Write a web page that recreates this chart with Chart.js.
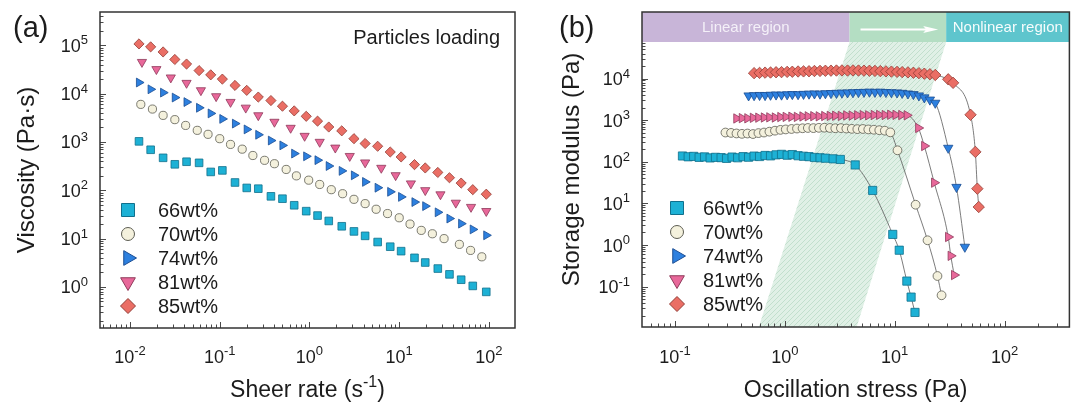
<!DOCTYPE html>
<html>
<head>
<meta charset="utf-8">
<script src="https://cdn.jsdelivr.net/npm/chart.js@4.4.1/dist/chart.umd.min.js"></script>
<style>
  html, body { margin: 0; padding: 0; background: #fff; }
  #wrap { position: relative; width: 1076px; height: 406px; overflow: hidden; }
  canvas { position: absolute; top: 0; }
  #chartA { left: 0; }
  #chartB { left: 540px; }
</style>
</head>
<body>
<div id="wrap">
  <canvas id="chartA" width="540" height="406"></canvas>
  <canvas id="chartB" width="536" height="406"></canvas>
</div>
<script>
// ---- data: panel (a) viscosity vs shear rate ----
const seriesLabels = ['66wt%', '70wt%', '74wt%', '81wt%', '85wt%'];

const shearRate = [0.0126, 0.017, 0.0234, 0.0316, 0.0427, 0.0589, 0.0794, 0.107, 0.148, 0.2,
  0.269, 0.372, 0.5, 0.676, 0.92, 1.23, 1.64, 2.29, 3.13, 4.17,
  5.75, 7.94, 10.5, 14.8, 19.5, 26.9, 36.3, 49, 66, 93.3];
const shearRate70 = [0.0132, 0.0178, 0.0234, 0.0316, 0.0417, 0.0562, 0.0741, 0.1, 0.132, 0.178,
  0.234, 0.316, 0.407, 0.55, 0.715, 0.98, 1.3, 1.75, 2.34, 3.13,
  4.17, 5.53, 7.41, 10, 13.2, 17.6, 23.4, 31.6, 46.8, 62.4, 83.2];
const shearRate81 = [0.0136, 0.0197, 0.0285, 0.0427, 0.0617, 0.0912, 0.132, 0.195, 0.269, 0.407,
  0.617, 0.883, 1.3, 1.94, 2.81, 4.17, 6.31, 9.12, 13.5, 19.5, 28.8, 42.7, 63.1, 93.3];

const visc66 = [1030, 690, 470, 345, 390, 370, 240, 258, 145, 112, 108, 75, 67, 49, 37,
  30, 23.2, 18, 14.1, 11.4, 8.5, 6.8, 5.5, 4.0, 3.2, 2.4, 1.82, 1.41, 1.05, 0.79];
const visc70 = [6000, 4800, 3550, 2900, 2200, 1740, 1440, 1170, 890, 710, 525, 417, 355, 270, 199,
  162, 132, 103, 85, 65, 53, 40.5, 33, 27, 20, 14.8, 12.6, 10, 7.6, 5.7, 4.2];
const visc74 = [17000, 12300, 10500, 8300, 6700, 5100, 3900, 3000, 2400, 1820, 1410, 1070, 850, 575, 505,
  420, 318, 252, 204, 149, 113, 93, 73, 57, 47, 35, 26, 20.4, 15.5, 11.7];
const visc81 = [45000, 32000, 21500, 16600, 11700, 8800, 6700, 5100, 3550, 2600, 1950, 1330,
  1000, 760, 510, 375, 290, 204, 138, 100, 82, 55, 45, 37];
const visc85 = [107000, 93000, 73000, 51000, 41000, 30000, 24500, 20000, 14800, 11700, 8500, 7200, 5500, 4400, 3400,
  2700, 2040, 1700, 1170, 930, 815, 620, 490, 340, 290, 234, 182, 141, 103, 83];

// ---- data: panel (b) storage modulus vs oscillation stress ----
const stress66 = [0.117, 0.132, 0.148, 0.166, 0.186, 0.209, 0.234, 0.263, 0.295, 0.331,
  0.372, 0.417, 0.468, 0.525, 0.589, 0.661, 0.741, 0.832, 0.933, 1.05,
  1.17, 1.32, 1.48, 1.66, 1.86, 2.09, 2.34, 2.75, 3.2, 4.37, 6.3, 9.6, 11.0, 12.9, 14.1, 15.3];
const modulus66 = [138, 132, 135, 128, 131, 124, 128, 126, 121, 130,
  125, 133, 129, 137, 134, 142, 139, 147, 151, 144,
  149, 140, 136, 133, 127, 125, 122, 118, 114, 84, 20.5, 1.8, 0.75, 0.136, 0.056, 0.024];

const stress70 = [0.288, 0.324, 0.363, 0.407, 0.457, 0.513, 0.575, 0.646, 0.724, 0.813,
  0.912, 1.02, 1.15, 1.29, 1.45, 1.62, 1.82, 2.04, 2.29, 2.57,
  2.88, 3.24, 3.63, 4.07, 4.57, 5.13, 5.75, 6.46, 7.24, 8.13, 9.12, 10.6, 15.5, 19.9, 24.5, 26.7];
const modulus70 = [505, 495, 480, 470, 478, 465, 490, 505, 530, 560,
  585, 600, 615, 630, 640, 650, 645, 655, 660, 650,
  640, 645, 630, 620, 610, 615, 600, 590, 575, 560, 510, 189, 9.3, 1.3, 0.18, 0.062];

const stress74 = [0.468, 0.525, 0.589, 0.661, 0.741, 0.832, 0.933, 1.05, 1.17, 1.32,
  1.48, 1.66, 1.86, 2.09, 2.34, 2.63, 2.95, 3.31, 3.72, 4.17,
  4.68, 5.25, 5.89, 6.61, 7.41, 8.32, 9.33, 10.5, 11.7, 13.2,
  14.8, 16.6, 18.6, 20.9, 23.4, 30.7, 36.5, 43.5];
const modulus74 = [3900, 3950, 4000, 3980, 4050, 4100, 4080, 4150, 4200, 4180,
  4250, 4300, 4350, 4300, 4400, 4450, 4500, 4550, 4600, 4650,
  4700, 4750, 4800, 4750, 4800, 4700, 4650, 4600, 4500, 4350,
  4200, 3900, 3500, 3100, 2600, 215, 24.7, 0.9];

const stress81 = [0.363, 0.407, 0.457, 0.513, 0.575, 0.646, 0.724, 0.813, 0.912, 1.02,
  1.15, 1.29, 1.45, 1.62, 1.82, 2.04, 2.29, 2.57, 2.88, 3.24,
  3.63, 4.07, 4.57, 5.13, 5.75, 6.46, 7.24, 8.13, 9.12, 10.2,
  11.5, 12.9, 16.4, 18.6, 22.9, 30.7, 32.4, 34.8];
const modulus81 = [1100, 1120, 1110, 1140, 1150, 1160, 1170, 1160, 1190, 1200,
  1210, 1200, 1230, 1240, 1250, 1240, 1260, 1270, 1280, 1270,
  1300, 1290, 1310, 1320, 1310, 1330, 1340, 1330, 1350, 1340,
  1330, 1310, 650, 240, 31.5, 1.56, 0.55, 0.19];

const stress85 = [0.525, 0.589, 0.661, 0.741, 0.832, 0.933, 1.05, 1.17, 1.32, 1.48,
  1.66, 1.86, 2.09, 2.34, 2.63, 2.95, 3.31, 3.72, 4.17, 4.68,
  5.25, 5.89, 6.61, 7.41, 8.32, 9.33, 10.5, 11.7, 13.2, 14.8,
  16.6, 18.6, 20.9, 23.4, 30.7, 34, 49, 54.2, 56.5, 58.2];
const modulus85 = [13500, 13700, 13900, 14000, 14200, 14300, 14500, 14600, 14800, 14900,
  15000, 15200, 15300, 15400, 15500, 15600, 15700, 15600, 15700, 15600,
  15500, 15400, 15300, 15100, 14900, 14700, 14500, 14300, 14100, 13800,
  13500, 13100, 12700, 12200, 9600, 7900, 1350, 173, 22.6, 8.2];

// tick label exponents
const xExpA = [-2, -1, 0, 1, 2];
const yExpA = [0, 1, 2, 3, 4, 5];
const xExpB = [-1, 0, 1, 2];
const yExpB = [-1, 0, 1, 2, 3, 4];

// region limits, in stress units
const linearEnd = 3.88;
const nonlinearStart = 29.4;
const hatchBottom = [0.58, 4.5];

// ---- styles ----
const FONT = '"Liberation Sans", Arial, Helvetica, sans-serif';
const INK = '#1c1c1c';
const fills = ['#1db1d5', '#f4f1dd', '#2d80df', '#e8689a', '#ea6e65'];
const edges = ['#11708c', '#5c5c52', '#1a4c92', '#8e3a5a', '#923d36'];
const legendStyles = ['rect', 'circle', 'right', 'down', 'diamond'];

const pts = (xs, ys) => xs.map((x, i) => ({ x: x, y: ys[i] }));

function richDraw(ctx, parts, x, y, size, align) {
  const supSize = Math.round(size * 0.7);
  const widths = parts.map(p => {
    ctx.font = (p[1] ? supSize : size) + 'px ' + FONT;
    return ctx.measureText(p[0]).width;
  });
  const total = widths.reduce((a, b) => a + b, 0);
  let cx = align === 'center' ? x - total / 2 : align === 'right' ? x - total : x;
  ctx.textAlign = 'left';
  ctx.textBaseline = 'alphabetic';
  parts.forEach((p, i) => {
    ctx.font = (p[1] ? supSize : size) + 'px ' + FONT;
    ctx.fillText(p[0], cx, p[1] ? y - size * 0.42 : y);
    cx += widths[i];
  });
}

function logTicks(min, max) {
  const out = [];
  for (let e = Math.floor(Math.log10(min)); e <= Math.ceil(Math.log10(max)); e++) {
    for (let s = 1; s <= 9; s++) {
      const v = s * Math.pow(10, e);
      if (v >= min && v <= max) out.push({ v: v, major: s === 1 });
    }
  }
  return out;
}

function marker(ctx, style, x, y, r) {
  ctx.beginPath();
  if (style === 'rect') {
    ctx.rect(x - r, y - r, 2 * r, 2 * r);
  } else if (style === 'circle') {
    ctx.arc(x, y, r, 0, Math.PI * 2);
  } else if (style === 'right') {
    ctx.moveTo(x + r, y); ctx.lineTo(x - r / 2, y - r * 0.866); ctx.lineTo(x - r / 2, y + r * 0.866);
    ctx.closePath();
  } else if (style === 'down') {
    ctx.moveTo(x, y + r); ctx.lineTo(x - r * 0.866, y - r / 2); ctx.lineTo(x + r * 0.866, y - r / 2);
    ctx.closePath();
  } else {
    ctx.moveTo(x - r, y); ctx.lineTo(x, y - r); ctx.lineTo(x + r, y); ctx.lineTo(x, y + r);
    ctx.closePath();
  }
  ctx.fill();
  ctx.stroke();
}

function hatchPattern(ctx) {
  const c = document.createElement('canvas');
  c.width = 5; c.height = 5;
  const g = c.getContext('2d');
  g.fillStyle = '#e0f0e6';
  g.fillRect(0, 0, 5, 5);
  g.strokeStyle = '#c2dfcd';
  g.lineWidth = 1;
  g.beginPath();
  g.moveTo(0, 5); g.lineTo(5, 0);
  g.moveTo(-2.5, 2.5); g.lineTo(2.5, -2.5);
  g.moveTo(2.5, 7.5); g.lineTo(7.5, 2.5);
  g.stroke();
  return ctx.createPattern(c, 'repeat');
}

// regions band + hatched transition zone, under the data
const regionPlugin = {
  id: 'regions',
  beforeDatasetsDraw(chart, args, opts) {
    if (!opts.show) return;
    const ctx = chart.ctx, a = chart.chartArea, xs = chart.scales.x;
    const bandH = 30;
    const xL = xs.getPixelForValue(linearEnd), xN = xs.getPixelForValue(nonlinearStart);
    ctx.save();
    ctx.fillStyle = hatchPattern(ctx);
    ctx.beginPath();
    ctx.moveTo(xs.getPixelForValue(hatchBottom[0]), a.bottom);
    ctx.lineTo(xs.getPixelForValue(hatchBottom[1]), a.bottom);
    ctx.lineTo(xN, a.top + bandH);
    ctx.lineTo(xL, a.top + bandH);
    ctx.closePath();
    ctx.fill();

    ctx.fillStyle = '#c8b5d8';
    ctx.fillRect(a.left, a.top, xL - a.left, bandH);
    ctx.fillStyle = '#b4dec3';
    ctx.fillRect(xL, a.top, xN - xL, bandH);
    ctx.fillStyle = '#5ec5cd';
    ctx.fillRect(xN, a.top, a.right - xN, bandH);

    ctx.font = '15px ' + FONT;
    ctx.textAlign = 'center';
    ctx.textBaseline = 'middle';
    ctx.fillStyle = '#f4f0f8';
    ctx.fillText('Linear region', (a.left + xL) / 2, a.top + bandH / 2 + 1);
    ctx.fillStyle = '#f6fcfc';
    ctx.fillText('Nonlinear region', (xN + a.right) / 2, a.top + bandH / 2 + 1);

    // arrow
    const ay = a.top + 17.5, ax0 = xL + 11, ax1 = xN - 8;
    ctx.strokeStyle = '#ffffff';
    ctx.lineWidth = 2;
    ctx.beginPath();
    ctx.moveTo(ax0, ay); ctx.lineTo(ax1 - 10, ay);
    ctx.stroke();
    ctx.fillStyle = '#ffffff';
    ctx.beginPath();
    ctx.moveTo(ax1, ay); ctx.lineTo(ax1 - 15, ay - 3.5); ctx.lineTo(ax1 - 12, ay); ctx.lineTo(ax1 - 15, ay + 3.5);
    ctx.closePath();
    ctx.fill();
    ctx.restore();
  }
};

// frame, inward ticks, superscript labels, titles, legend
const decorPlugin = {
  id: 'decor',
  afterDraw(chart, args, o) {
    const ctx = chart.ctx, a = chart.chartArea;
    const xs = chart.scales.x, ys = chart.scales.y;
    ctx.save();
    ctx.strokeStyle = '#4a4a4a';
    ctx.lineWidth = 1;
    ctx.beginPath();
    logTicks(xs.min, xs.max).forEach(t => {
      const px = Math.round(xs.getPixelForValue(t.v)) + 0.5;
      ctx.moveTo(px, a.bottom);
      ctx.lineTo(px, a.bottom - (t.major ? 6 : 3.5));
    });
    logTicks(ys.min, o.yTickMax || ys.max).forEach(t => {
      const py = Math.round(ys.getPixelForValue(t.v)) + 0.5;
      ctx.moveTo(a.left, py);
      ctx.lineTo(a.left + (t.major ? 6 : 3.5), py);
    });
    ctx.stroke();

    ctx.strokeStyle = '#333';
    ctx.lineWidth = 1.5;
    ctx.strokeRect(a.left, a.top, a.right - a.left, a.bottom - a.top);

    ctx.fillStyle = INK;
    o.xExp.forEach(e => richDraw(ctx, [['10'], [String(e), true]],
      xs.getPixelForValue(Math.pow(10, e)), 363, 18, 'center'));
    o.yExp.forEach(e => richDraw(ctx, [['10'], [String(e), true]],
      a.left - 12, ys.getPixelForValue(Math.pow(10, e)) + 6.5, 18, 'right'));

    richDraw(ctx, o.xTitle, (a.left + a.right) / 2, 397, 23, 'center');
    ctx.save();
    ctx.translate(o.yTitleX, (a.top + a.bottom) / 2);
    ctx.rotate(-Math.PI / 2);
    richDraw(ctx, [[o.yTitle]], 0, 0, o.yTitleSize, 'center');
    ctx.restore();

    ctx.font = '29px ' + FONT;
    ctx.textAlign = 'left';
    ctx.textBaseline = 'alphabetic';
    ctx.fillText(o.tag, o.tagX, 37);
    if (o.note) {
      ctx.font = '20px ' + FONT;
      ctx.textAlign = 'right';
      ctx.fillText(o.note, o.noteX, 44);
    }

    // legend
    const sizes = { rect: 6.5, circle: 6.5, right: 8.5, down: 8.5, diamond: 7.5 };
    seriesLabels.forEach((lab, i) => {
      const y = o.legendRows[i];
      ctx.fillStyle = fills[i];
      ctx.strokeStyle = edges[i];
      ctx.lineWidth = 1;
      marker(ctx, legendStyles[i], o.legendX, y, sizes[legendStyles[i]]);
      ctx.fillStyle = INK;
      ctx.font = '20px ' + FONT;
      ctx.textAlign = 'left';
      ctx.textBaseline = 'middle';
      ctx.fillText(lab, o.legendTextX, y + 1);
    });
    ctx.restore();
  }
};

function scatterSet(label, data, i, style, rot, r, line) {
  return {
    label: label,
    data: data,
    showLine: !!line,
    borderColor: '#5a5a5a',
    borderWidth: 0.8,
    cubicInterpolationMode: 'monotone',
    pointStyle: style,
    pointRotation: rot,
    pointRadius: r,
    pointBackgroundColor: fills[i],
    pointBorderColor: edges[i],
    pointBorderWidth: 0.8
  };
}

function logAxes(xmin, xmax, ymin, ymax, yW, xH) {
  const common = {
    type: 'logarithmic',
    ticks: { display: false },
    grid: { display: false },
    border: { display: false },
    title: { display: false }
  };
  return {
    x: Object.assign({}, common, { position: 'bottom', min: xmin, max: xmax,
      afterFit: s => { s.height = xH; } }),
    y: Object.assign({}, common, { position: 'left', min: ymin, max: ymax,
      afterFit: s => { s.width = yW; } })
  };
}

// ---- panel (a) ----
new Chart(document.getElementById('chartA').getContext('2d'), {
  type: 'scatter',
  data: {
    datasets: [
      scatterSet(seriesLabels[0], pts(shearRate, visc66), 0, 'rect', 0, 5.4),
      scatterSet(seriesLabels[1], pts(shearRate70, visc70), 1, 'circle', 0, 4.1),
      scatterSet(seriesLabels[2], pts(shearRate, visc74), 2, 'triangle', 90, 5.1),
      scatterSet(seriesLabels[3], pts(shearRate81, visc81), 3, 'triangle', 180, 5.3),
      scatterSet(seriesLabels[4], pts(shearRate, visc85), 4, 'rectRot', 0, 5.1)
    ]
  },
  options: {
    responsive: false,
    animation: false,
    events: [],
    layout: { padding: { left: 0, top: 12, right: 25, bottom: 0 } },
    scales: logAxes(Math.pow(10, -2.334), Math.pow(10, 2.29), Math.pow(10, -0.85), Math.pow(10, 5.69), 100, 78),
    plugins: {
      legend: { display: false },
      tooltip: { enabled: false },
      regions: { show: false },
      decor: {
        xExp: xExpA, yExp: yExpA,
        xTitle: [['Sheer rate (s'], ['-1', true], [')']],
        yTitle: 'Viscosity (Pa\u00b7s)', yTitleX: 34, yTitleSize: 24,
        tag: '(a)', tagX: 13, note: 'Particles loading', noteX: 500,
        legendX: 128, legendTextX: 158, legendRows: [210, 234, 258, 282, 306]
      }
    }
  },
  plugins: [regionPlugin, decorPlugin]
});

// ---- panel (b) ----
new Chart(document.getElementById('chartB').getContext('2d'), {
  type: 'scatter',
  data: {
    datasets: [
      scatterSet(seriesLabels[0], pts(stress66, modulus66), 0, 'rect', 0, 5.8, true),
      scatterSet(seriesLabels[1], pts(stress70, modulus70), 1, 'circle', 0, 4.4, true),
      scatterSet(seriesLabels[2], pts(stress74, modulus74), 2, 'triangle', 180, 5.4, true),
      scatterSet(seriesLabels[3], pts(stress81, modulus81), 3, 'triangle', 90, 5.4, true),
      scatterSet(seriesLabels[4], pts(stress85, modulus85), 4, 'rectRot', 0, 5.7, true)
    ]
  },
  options: {
    responsive: false,
    animation: false,
    events: [],
    layout: { padding: { left: 0, top: 12, right: 5, bottom: 0 } },
    scales: logAxes(Math.pow(10, -1.30), Math.pow(10, 2.59), Math.pow(10, -1.97), Math.pow(10, 5.60), 102, 79),
    plugins: {
      legend: { display: false },
      tooltip: { enabled: false },
      regions: { show: true },
      decor: {
        xExp: xExpB, yExp: yExpB, yTickMax: 70000,
        xTitle: [['Oscillation stress (Pa)']],
        yTitle: 'Storage modulus (Pa)', yTitleX: 39, yTitleSize: 24,
        tag: '(b)', tagX: 19, note: null,
        legendX: 137, legendTextX: 163, legendRows: [208, 232, 256, 280, 304]
      }
    }
  },
  plugins: [regionPlugin, decorPlugin]
});
</script>
</body>
</html>
